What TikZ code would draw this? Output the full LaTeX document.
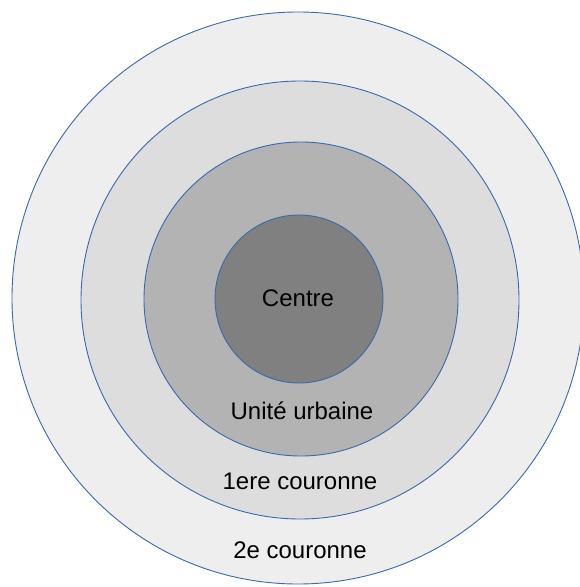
\documentclass[tikz,border=0pt]{standalone}
\usepackage{fontspec}
\setmainfont{Liberation Sans}
\definecolor{ringline}{RGB}{60,105,170}
\definecolor{ringA}{RGB}{238,238,238}
\definecolor{ringB}{RGB}{221,221,221}
\definecolor{ringC}{RGB}{179,179,179}
\definecolor{ringD}{RGB}{128,128,128}
\begin{document}
\begin{tikzpicture}[x=1bp,y=-1bp,
  ring/.style={circle,draw=ringline,line width=0.9bp,inner sep=0pt},
  lbl/.style={font=\fontsize{24bp}{28bp}\selectfont,text=black,inner sep=0pt}]
\useasboundingbox (0,0) rectangle (580,587);
\clip (0,0) rectangle (580,587);
\node[ring,fill=ringA,minimum size=572bp] (c2) at (298,298) {};
\node[ring,fill=ringB,minimum size=438bp] (c1) at (300,300) {};
\node[ring,fill=ringC,minimum size=314bp] (cu) at (301,299) {};
\node[ring,fill=ringD,minimum size=168bp] (cc) at (299,299) {};
\node[lbl] (tcentre) at (298,298) {Centre};
\node[lbl] (tunite) at (302,411) {Unité urbaine};
\node[lbl] (tun) at (300,481) {1ere couronne};
\node[lbl] (tdeux) at (300,550) {2e couronne};
\end{tikzpicture}
\end{document}
